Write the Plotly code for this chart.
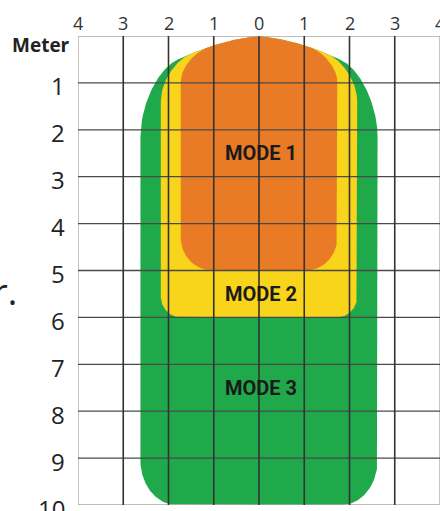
import numpy as np
import plotly.graph_objects as go

# ---- data ----
x_ticks = [-4, -3, -2, -1, 0, 1, 2, 3, 4]
x_tick_labels = ["4", "3", "2", "1", "0", "1", "2", "3", "4"]
y_ticks = [0, 1, 2, 3, 4, 5, 6, 7, 8, 9, 10]
y_tick_labels = ["Meter", "1", "2", "3", "4", "5", "6", "7", "8", "9", "10"]

mode_names = ["MODE 3", "MODE 2", "MODE 1"]
mode_half_width = [2.62, 2.17, 1.73]   # metres
mode_depth = [10.0, 6.0, 5.0]          # metres
mode_label_y = [7.5, 5.5, 2.5]

# ---- style ----
mode_colors = ["#1fa94b", "#f8d41a", "#e97b27"]
shoulder_start = [1.8, 1.5, 1.1]
shoulder_drop = [1.2, 0.7, 0.5]
corner_rx = [0.8, 0.45, 0.7]
corner_ry = [0.95, 0.45, 0.7]


def outline(w, d, x0, sh, rbx, rby):
    xs = np.linspace(0, w, 240)
    base = 0.1 * xs + 0.1 * xs ** 2
    u = np.clip((xs - x0) / (w - x0), 0, 1)
    top = base + np.where(xs > x0, sh * (1 - np.sqrt(np.clip(1 - u ** 2, 0, 1))), 0)
    rx = list(xs)
    ry = list(top)
    t = np.linspace(0, np.pi / 2, 60)
    rx += list(w - rbx + rbx * np.cos(t))
    ry += list(d - rby + rby * np.sin(t))
    rx.append(0.0)
    ry.append(d)
    lx = [-v for v in rx[::-1]]
    ly = ry[::-1]
    return lx + rx, ly + ry


fig = go.Figure()

for i in range(len(mode_names)):
    px, py = outline(mode_half_width[i], mode_depth[i], shoulder_start[i],
                     shoulder_drop[i], corner_rx[i], corner_ry[i])
    fig.add_trace(go.Scatter(x=px, y=py, mode="lines", fill="toself",
                             fillcolor=mode_colors[i], line=dict(width=0),
                             hoverinfo="skip", showlegend=False))


def seg_lines(vals, vertical, lo, hi):
    xs, ys = [], []
    for v in vals:
        if vertical:
            xs += [v, v, None]
            ys += [lo, hi, None]
        else:
            xs += [lo, hi, None]
            ys += [v, v, None]
    return xs, ys


inner_x = [v for v in x_ticks if v not in (x_ticks[0], x_ticks[-1])]
inner_y = [v for v in y_ticks if v not in (y_ticks[0], y_ticks[-1])]

gx, gy = seg_lines([x_ticks[0], x_ticks[-1]], True, y_ticks[0], y_ticks[-1])
fig.add_trace(go.Scatter(x=gx, y=gy, mode="lines", line=dict(color="#a8a8a8", width=1.3),
                         hoverinfo="skip", showlegend=False, cliponaxis=False))
gx, gy = seg_lines([y_ticks[0], y_ticks[-1]], False, x_ticks[0], x_ticks[-1])
fig.add_trace(go.Scatter(x=gx, y=gy, mode="lines", line=dict(color="#a8a8a8", width=1.3),
                         hoverinfo="skip", showlegend=False, cliponaxis=False))
gx, gy = seg_lines(inner_y, False, x_ticks[0], x_ticks[-1])
fig.add_trace(go.Scatter(x=gx, y=gy, mode="lines", line=dict(color="#4a4a4a", width=1.3),
                         hoverinfo="skip", showlegend=False, cliponaxis=False))
gx, gy = seg_lines(inner_x, True, y_ticks[0], y_ticks[-1])
fig.add_trace(go.Scatter(x=gx, y=gy, mode="lines", line=dict(color="#333333", width=1.6),
                         hoverinfo="skip", showlegend=False, cliponaxis=False))

annotations = []
for xv, lab in zip(x_ticks, x_tick_labels):
    annotations.append(dict(x=xv, y=0, xref="x", yref="y", text=lab, showarrow=False,
                            xanchor="center", yanchor="middle", yshift=13,
                            font=dict(family="Open Sans", size=18, color="#333333")))
for yv, lab in zip(y_ticks, y_tick_labels):
    if lab == "Meter":
        annotations.append(dict(x=-4, y=yv, xref="x", yref="y", text="<b>Meter</b>",
                                showarrow=False, xanchor="right", yanchor="middle",
                                xshift=-6, yshift=-9,
                                font=dict(family="Open Sans", size=19, color="#222222")))
    else:
        annotations.append(dict(x=-4, y=yv, xref="x", yref="y", text=lab,
                                showarrow=False, xanchor="right", yanchor="middle",
                                xshift=-11, yshift=-3,
                                font=dict(family="Open Sans", size=24, color="#222222")))
for name, ly in zip(mode_names, mode_label_y):
    annotations.append(dict(x=0.05, y=ly, xref="x", yref="y", text="<b>" + name + "</b>",
                            showarrow=False, xanchor="center", yanchor="middle",
                            font=dict(family="Roboto", size=20, color="#1a1a1a")))
annotations.append(dict(x=-4, y=5.44, xref="x", yref="y", text="r.", showarrow=False,
                        xanchor="right", yanchor="middle", xshift=-59,
                        font=dict(family="Open Sans", size=36, color="#222222")))

fig.update_layout(
    width=440, height=511,
    margin=dict(l=78, r=0, t=36, b=6),
    paper_bgcolor="white", plot_bgcolor="white",
    xaxis=dict(range=[-4, 4], visible=False, showgrid=False, zeroline=False, fixedrange=True),
    yaxis=dict(range=[10, 0], visible=False, showgrid=False, zeroline=False, fixedrange=True),
    annotations=annotations,
    showlegend=False,
)

# remove the page's default body margin so the figure fills the window
fig.write_html("out.html", config={"displayModeBar": False},
               post_script="document.body.style.margin='0px';")
